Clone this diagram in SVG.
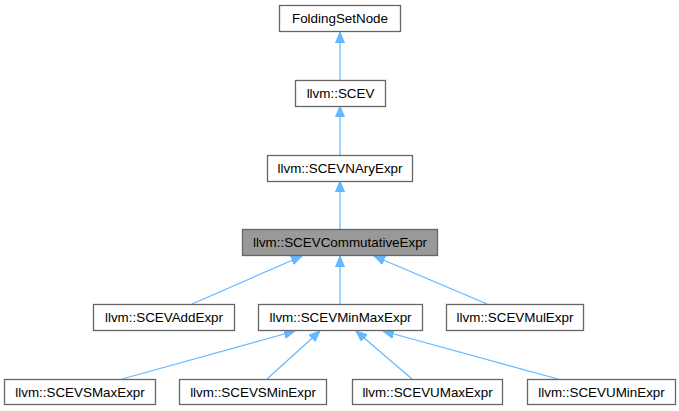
<svg xmlns="http://www.w3.org/2000/svg" width="679" height="411" viewBox="0 0 679 411">
<style>
.n rect{fill:#ffffff;stroke:#666666;stroke-width:1.3}
.n.cur rect{fill:#999999}
.n text{font-family:"Liberation Sans",Arial,sans-serif;font-size:13.4px;fill:#000000;text-anchor:middle}
.e line{stroke:#63b8ff;stroke-width:1.2;marker-end:url(#ah)}
</style>
<defs>
<marker id="ah" markerUnits="userSpaceOnUse" markerWidth="12" markerHeight="10" refX="11" refY="5" orient="auto" viewBox="0 0 12 10">
<path d="M0,0.5 L11,5 L0,9.5 Z" fill="#63b8ff" stroke="#63b8ff" stroke-width="1"/>
</marker>
</defs>
<rect width="679" height="411" fill="#ffffff"/>
<g id="connectors" class="e">
<line x1="340" y1="80" x2="340" y2="32"/>
<line x1="340" y1="155" x2="340" y2="106"/>
<line x1="340" y1="229" x2="340" y2="181"/>
<line x1="192" y1="304" x2="302" y2="256"/>
<line x1="340" y1="304" x2="340" y2="256"/>
<line x1="487" y1="304" x2="374" y2="256"/>
<line x1="122" y1="379" x2="295" y2="331"/>
<line x1="267" y1="379" x2="320" y2="331"/>
<line x1="412" y1="379" x2="356" y2="331"/>
<line x1="558" y1="379" x2="383" y2="331"/>
</g>
<g id="node-FoldingSetNode" class="n"><rect x="279.5" y="5.5" width="121" height="26"/><text x="340" y="23">FoldingSetNode</text></g>
<g id="node-SCEV" class="n"><rect x="295.5" y="80.5" width="90" height="26"/><text x="340.5" y="98">llvm::SCEV</text></g>
<g id="node-SCEVNAryExpr" class="n"><rect x="267.5" y="155.5" width="145" height="26"/><text x="340" y="173">llvm::SCEVNAryExpr</text></g>
<g id="node-SCEVCommutativeExpr" class="n cur"><rect x="242.5" y="229.5" width="195" height="26"/><text x="340" y="247">llvm::SCEVCommutativeExpr</text></g>
<g id="node-SCEVAddExpr" class="n"><rect x="93.5" y="304.5" width="141" height="26"/><text x="164" y="322">llvm::SCEVAddExpr</text></g>
<g id="node-SCEVMinMaxExpr" class="n"><rect x="258.5" y="304.5" width="164" height="26"/><text x="340.5" y="322">llvm::SCEVMinMaxExpr</text></g>
<g id="node-SCEVMulExpr" class="n"><rect x="446.5" y="304.5" width="137" height="26"/><text x="515" y="322">llvm::SCEVMulExpr</text></g>
<g id="node-SCEVSMaxExpr" class="n"><rect x="4.5" y="379.5" width="151" height="25"/><text x="80" y="396.5">llvm::SCEVSMaxExpr</text></g>
<g id="node-SCEVSMinExpr" class="n"><rect x="179.5" y="379.5" width="147" height="25"/><text x="253" y="396.5">llvm::SCEVSMinExpr</text></g>
<g id="node-SCEVUMaxExpr" class="n"><rect x="352.5" y="379.5" width="150" height="25"/><text x="427.5" y="396.5">llvm::SCEVUMaxExpr</text></g>
<g id="node-SCEVUMinExpr" class="n"><rect x="527.5" y="379.5" width="148" height="25"/><text x="601.5" y="396.5">llvm::SCEVUMinExpr</text></g>
</svg>
